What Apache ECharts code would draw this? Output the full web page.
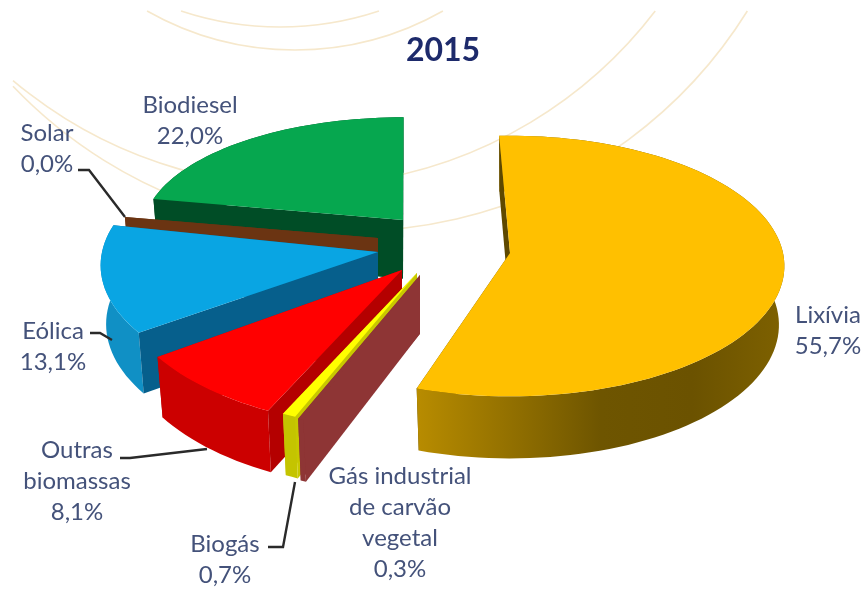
<!DOCTYPE html>
<html><head><meta charset="utf-8">
<style>html,body{margin:0;padding:0;background:#fff}#c{width:866px;height:592px}</style>
<script src="https://cdn.jsdelivr.net/npm/echarts@6/dist/echarts.min.js"></script>
</head><body><div id="c"></div>
<script>
// ---- data (clockwise order of the pie) ----
var titleText = '2015';
var categories = ['Lixívia','Gás industrial\nde carvão\nvegetal','Biogás','Outras\nbiomassas','Eólica','Solar','Biodiesel'];
var shares = [55.7,0.3,0.7,8.1,13.1,0.0,22.0];
// ---- presentation ----
var topColors  = ['#FFC000','#8E3535','#FFFF00','#FF0000','#09A5E3','#6B3412','#06A74F'];
var cutColors  = ['#5E4800','#8E3535','#C8C800','#B40000','#065F8C','#6B3412','#004D26'];
var rimColors  = ['lix','#8E3535','#C4C400','#CC0000','#1090C5','#6B3412','#004D26'];
var apexX = [510,420,417,402,378,378,403];
var apexY = [253,275,273,270,252,238,220];
var radiusX = [273,282,282,282,276,264,259];
var radiusY = [129,142,142,142,132,103,113];
var gapAfter = [4,0,0,0,0,-1,0];
var labelX = [828,400,225,77,53,47,190];
var labelY = [315,476,544,450,331,133,105];
var leaders = [
  [[78,170],[89,170],[125,217]],
  [[120,458],[130,458],[207,449]],
  [[268,547],[283,547],[295,482]],
  [[90,333],[100,333],[112,340]]
];
var firstAngle = -2.5, perspective = 0.1, depth = 60, depthScale = 0.02;
var arcs = [[280,-287,314],[295,-250,300],[301,-260,446],[351,-236,467]];

function pt(i, deg, r, z) {
  var a = deg * Math.PI / 180, X = r * Math.sin(a), Y = r * Math.cos(a);
  var D = 1 + perspective * Y + depthScale * z;
  return [apexX[i] + radiusX[i] * X / D, apexY[i] - radiusY[i] * Y / D + depth * z / D];
}
function arcPts(i, a0, a1, z) {
  var out = [], n = Math.max(1, Math.ceil((a1 - a0) / 2));
  for (var k = 0; k <= n; k++) out.push(pt(i, a0 + (a1 - a0) * k / n, 1, z));
  return out;
}
function fill(c) {
  if (c !== 'lix') return c;
  return {type:'linear',x:0,y:0,x2:1,y2:0,colorStops:[
    {offset:0,color:'#B88C00'},{offset:0.5,color:'#6E5500'},{offset:0.75,color:'#6B5200'},{offset:1,color:'#7E6100'}]};
}
function poly(points, color) {
  return {type:'polygon',shape:{points:points},style:{fill:fill(color)}};
}
var starts = [];
shares.reduce(function (acc, v, i) { starts[i] = acc; return acc + v * 3.6 + gapAfter[i]; }, firstAngle);

function renderItem(params, api) {
  var i = api.value(1), a0 = starts[i], a1 = a0 + api.value(0) * 3.6;
  var kids = [];
  var p0 = pt(i,a0,0,0), p0b = pt(i,a0,0,1);
  var rimTop = arcPts(i,a0,a1,0), rimBot = arcPts(i,a0,a1,1);
  var n = rimTop.length - 1;
  kids.push(poly([p0,rimTop[n],rimBot[n],p0b], cutColors[i]));
  var top = [], bot = [];
  rimTop.forEach(function (p, k) { top.push(p); bot.unshift(rimBot[k]); });
  kids.push(poly(top.concat(bot), rimColors[i]));
  kids.push(poly([p0,rimTop[0],rimBot[0],p0b], cutColors[i]));
  kids.push(poly([p0].concat(rimTop), topColors[i]));
  return {type:'group',children:kids};
}

function arcGraphic(a) {
  var cx=a[0], cy=a[1], r=a[2];
  var right = Math.asin((11-cy)/r), left;
  if (cx - Math.sqrt(r*r-(11-cy)*(11-cy)) > 13) left = Math.PI - right;
  else left = Math.acos((13-cx)/r);
  return {type:'arc',shape:{cx:cx,cy:cy,r:r,startAngle:right,endAngle:left,clockwise:true},
    style:{fill:null,stroke:'#F6E8CC',lineWidth:1.6},silent:true,z:-1};
}
var labelEls = categories.map(function (name, i) {
  return {type:'text',x:labelX[i],y:labelY[i],z:5,
    style:{text:name+'\n'+shares[i].toFixed(1).replace('.',',')+'%',fill:'#44527A',
      font:'24px Lato',align:'center',verticalAlign:'top',lineHeight:31,
      x:0,y:-15}};
});
var leaderEls = leaders.map(function (pts) {
  return {type:'polyline',shape:{points:pts},z:4,style:{fill:null,stroke:'#2A2A2A',lineWidth:2.4}};
});

var chart = echarts.init(document.getElementById('c'),null,{renderer:'canvas'});
var order = [6,5,4,3,2,1,0];
chart.setOption({
  animation:false,
  backgroundColor:'#fff',
  title:{text:titleText,left:438,top:30,textAlign:'center',
    textStyle:{color:'#1D2A6B',fontFamily:'Lato',fontWeight:'bold',fontSize:32}},
  graphic:{elements:arcs.map(arcGraphic).concat(leaderEls,labelEls)},
  series:[{type:'custom',coordinateSystem:'none',renderItem:renderItem,silent:true,z:2,
    data:order.map(function(i){return [shares[i],i];})}]
});
</script></body></html>
